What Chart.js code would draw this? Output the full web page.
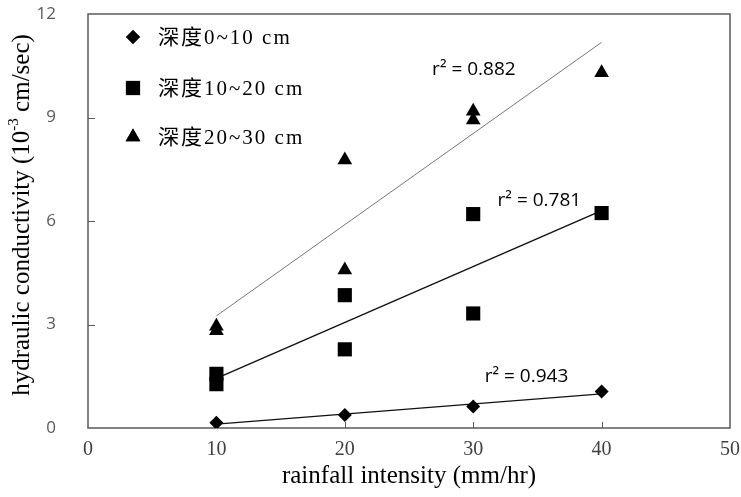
<!DOCTYPE html>
<html>
<head>
<meta charset="utf-8">
<script src="https://cdn.jsdelivr.net/npm/chart.js@4.4.1/dist/chart.umd.min.js"></script>
<style>
  html, body { margin: 0; padding: 0; background: #fff; }
  #wrap { width: 741px; height: 497px; }
</style>
</head>
<body>
<div id="wrap"><canvas id="c"></canvas></div>
<script>
// measurements per soil depth: rainfall intensity (mm/hr) vs conductivity (1e-3 cm/sec)
const depthLabels = ['深度0~10 cm', '深度10~20 cm', '深度20~30 cm'];
const intensity0 = [10, 20, 30, 40];
const cond0 = [0.15, 0.38, 0.62, 1.06];
const intensity1 = [10, 10, 20, 20, 30, 30, 40];
const cond1 = [1.57, 1.27, 3.85, 2.28, 6.20, 3.32, 6.23];
const intensity2 = [10, 10, 20, 20, 30, 30, 40];
const cond2 = [2.95, 2.82, 7.77, 4.58, 9.18, 8.93, 10.30];

// linear fit lines, values at both ends
const trendX = [10, 40];
const trend0 = [0.11, 0.99];
const trend1 = [1.44, 6.30];
const trend2 = [3.25, 11.18];
const r2Text = ['r² = 0.943', 'r² = 0.781', 'r² = 0.882'];
const r2X = [30.9, 31.9, 26.8];
const r2Y = [1.48, 6.58, 10.38];

const xTicks = [0, 10, 20, 30, 40, 50];
const yTicks = [0, 3, 6, 9, 12];

const pts = (xs, ys) => xs.map((x, i) => ({ x: x, y: ys[i] }));

const markerStyles = ['rectRot', 'rect', 'triangle'];
const markerRadius = [7, 10, 8.5];

const serif = '"Liberation Serif", "Times New Roman", "Noto Sans CJK TC", serif';
const sans = '"Open Sans", "Noto Sans", sans-serif';

const framePlugin = {
  id: 'frame',
  beforeDatasetsDraw(chart) {
    const { ctx, chartArea: a, scales } = chart;
    ctx.save();
    ctx.strokeStyle = '#595959';
    ctx.lineWidth = 1.5;
    ctx.strokeRect(a.left, a.top, a.right - a.left, a.bottom - a.top);
    // short inward tick marks
    ctx.lineWidth = 1;
    ctx.beginPath();
    xTicks.slice(1, -1).forEach(v => {
      const px = Math.round(scales.x.getPixelForValue(v)) + 0.5;
      ctx.moveTo(px, a.bottom);
      ctx.lineTo(px, a.bottom - 6);
    });
    yTicks.slice(1, -1).forEach(v => {
      const py = Math.round(scales.y.getPixelForValue(v)) + 0.5;
      ctx.moveTo(a.left, py);
      ctx.lineTo(a.left + 7, py);
    });
    ctx.stroke();
    ctx.restore();
  },
  afterDraw(chart) {
    const { ctx, chartArea: a, scales } = chart;
    ctx.save();

    // r² annotations
    ctx.fillStyle = '#000';
    ctx.font = '19px ' + sans;
    ctx.textAlign = 'left';
    ctx.textBaseline = 'middle';
    r2Text.forEach((t, i) => {
      ctx.fillText(t, scales.x.getPixelForValue(r2X[i]), scales.y.getPixelForValue(r2Y[i]));
    });

    // legend
    const ly = [37, 88, 137];
    depthLabels.forEach((lab, i) => {
      Chart.helpers.drawPoint(ctx, {
        pointStyle: markerStyles[i], radius: markerRadius[i], rotation: 0, borderWidth: 0
      }, 133, ly[i]);
      ctx.fillStyle = '#000';
      ctx.fill();
      ctx.font = '21px ' + serif;
      ctx.letterSpacing = '2px';
      ctx.textBaseline = 'middle';
      ctx.fillText(lab, 158, ly[i] + 1);
      ctx.letterSpacing = '0px';
    });

    // axis titles
    ctx.fillStyle = '#000';
    ctx.textAlign = 'center';
    ctx.textBaseline = 'middle';
    ctx.font = '25px ' + serif;
    ctx.fillText('rainfall intensity (mm/hr)', (a.left + a.right) / 2, 476);

    ctx.translate(22, (a.top + a.bottom) / 2 - 6);
    ctx.rotate(-Math.PI / 2);
    const big = '25px ' + serif, small = '15px ' + serif;
    const p1 = 'hydraulic conductivity (10', p2 = '-3', p3 = ' cm/sec)';
    ctx.font = big; const w1 = ctx.measureText(p1).width, w3 = ctx.measureText(p3).width;
    ctx.font = small; const w2 = ctx.measureText(p2).width;
    let x0 = -(w1 + w2 + w3) / 2;
    ctx.textAlign = 'left';
    ctx.font = big; ctx.fillText(p1, x0, 0);
    ctx.font = small; ctx.fillText(p2, x0 + w1, -8);
    ctx.font = big; ctx.fillText(p3, x0 + w1 + w2, 0);
    ctx.restore();
  }
};

new Chart(document.getElementById('c'), {
  type: 'scatter',
  data: {
    datasets: [
      { label: depthLabels[0], data: pts(intensity0, cond0), pointStyle: markerStyles[0], pointRadius: markerRadius[0],
        backgroundColor: '#000', borderColor: '#000', borderWidth: 0, order: 1 },
      { label: depthLabels[1], data: pts(intensity1, cond1), pointStyle: markerStyles[1], pointRadius: markerRadius[1],
        backgroundColor: '#000', borderColor: '#000', borderWidth: 0, order: 1 },
      { label: depthLabels[2], data: pts(intensity2, cond2), pointStyle: markerStyles[2], pointRadius: markerRadius[2],
        backgroundColor: '#000', borderColor: '#000', borderWidth: 0, order: 1 },
      { label: 'fit0', data: pts(trendX, trend0), showLine: true, pointRadius: 0, borderColor: '#111', borderWidth: 1.2, order: 2 },
      { label: 'fit1', data: pts(trendX, trend1), showLine: true, pointRadius: 0, borderColor: '#111', borderWidth: 1.4, order: 2 },
      { label: 'fit2', data: pts(trendX, trend2), showLine: true, pointRadius: 0, borderColor: '#777', borderWidth: 1, order: 2 }
    ]
  },
  options: {
    responsive: true,
    maintainAspectRatio: false,
    animation: false,
    layout: { padding: { top: 14, right: 11, left: 0, bottom: 0 } },
    plugins: { legend: { display: false }, tooltip: { enabled: false } },
    scales: {
      x: {
        min: 0, max: 50,
        afterFit: s => { s.height = 69; s.paddingLeft = 0; s.paddingRight = 0; },
        afterBuildTicks: s => { s.ticks = xTicks.map(v => ({ value: v })); },
        grid: { display: false },
        border: { display: false },
        ticks: { color: '#404040', font: { family: serif, size: 20 }, padding: 2, maxRotation: 0 }
      },
      y: {
        min: 0, max: 12,
        afterFit: s => { s.width = 88; s.paddingTop = 0; s.paddingBottom = 0; },
        afterBuildTicks: s => { s.ticks = yTicks.map(v => ({ value: v })); },
        grid: { display: false },
        border: { display: false },
        ticks: { color: '#595959', font: { family: sans, size: 17 }, padding: 24 }
      }
    }
  },
  plugins: [framePlugin]
});
</script>
</body>
</html>
